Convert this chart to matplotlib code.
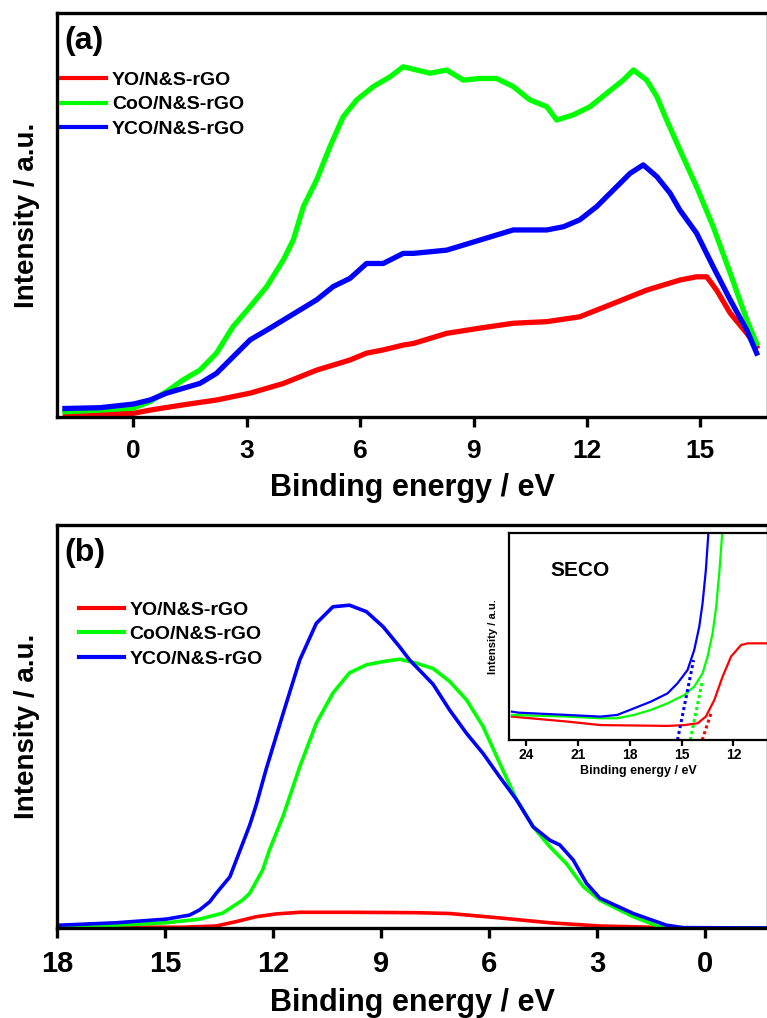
import matplotlib
matplotlib.use("Agg")
import matplotlib.pyplot as plt

labels = ["YO/N&S-rGO", "CoO/N&S-rGO", "YCO/N&S-rGO"]
colors = ["#ff0000", "#00ff00", "#0000ff"]

# (a) valence band, binding energy (eV) vs intensity (a.u.)
a_yo_x = [-1.8, -1.0, 0.0, 0.44, 1.32, 2.2, 3.09, 3.97, 4.85, 5.73, 6.17, 6.61, 7.14, 7.41,
          8.29, 9.17, 10.05, 10.94, 11.81, 12.7, 13.58, 14.46, 14.9, 15.17, 15.43, 15.79,
          16.23, 16.49]
a_yo_y = [0.9, 0.9, 0.9, 1.7, 3.0, 4.2, 5.9, 8.3, 11.6, 14.1, 15.8, 16.6, 17.8, 18.2,
          20.7, 22.0, 23.2, 23.6, 24.8, 28.1, 31.4, 33.9, 34.7, 34.7, 31.4, 25.7,
          20.7, 17.4]
a_coo_x = [-1.81, -0.88, 0.0, 0.44, 0.88, 1.32, 1.76, 2.2, 2.64, 3.09, 3.53, 3.97, 4.23,
           4.5, 4.85, 5.2, 5.55, 5.91, 6.35, 6.79, 7.14, 7.85, 8.29, 8.73, 9.17, 9.61,
           10.05, 10.49, 10.94, 11.2, 11.64, 12.08, 12.52, 12.96, 13.23, 13.58, 13.85,
           14.11, 14.46, 14.9, 15.34, 15.79, 16.23, 16.49]
a_coo_y = [1.3, 1.7, 2.2, 3.8, 6.3, 9.2, 11.6, 15.8, 22.4, 27.3, 32.3, 38.9, 43.8,
           52.1, 58.7, 66.9, 74.3, 78.5, 81.8, 84.2, 86.7, 85.1, 85.9, 83.4, 83.8, 83.8,
           81.8, 78.5, 76.8, 73.5, 74.8, 76.8, 80.1, 83.4, 85.9, 83.4, 79.3,
           73.5, 66.1, 57.0, 47.1, 35.6, 24.0, 18.2]
a_yco_x = [-1.81, -0.88, 0.0, 0.44, 0.88, 1.32, 1.76, 2.2, 2.64, 3.09, 3.53, 3.97, 4.41,
           4.85, 5.29, 5.73, 6.17, 6.61, 7.14, 7.41, 8.29, 9.17, 10.05, 10.94, 11.38,
           11.81, 12.26, 12.7, 13.14, 13.49, 13.85, 14.2, 14.46, 14.9, 15.34, 15.79,
           16.23, 16.49]
a_yco_y = [2.1, 2.3, 3.2, 4.2, 5.9, 7.1, 8.3, 10.8, 14.9, 19.1, 21.5, 24.0, 26.5,
           29.0, 32.3, 34.3, 38.0, 38.0, 40.5, 40.5, 41.3, 43.8, 46.3, 46.3, 47.1,
           48.8, 52.1, 56.2, 60.3, 62.4, 59.5, 55.4, 51.2, 45.5, 37.2, 29.0,
           21.5, 15.8]

# (b) UPS spectra
b_yo_x = [17.93, 14.5, 13.58, 13.02, 12.47, 11.91, 11.26, 9.88, 8.02, 7.1, 5.71, 4.32,
          2.93, 1.5, 0.5, -1.7]
b_yo_y = [0.2, 0.2, 0.5, 1.6, 2.8, 3.5, 3.9, 3.9, 3.8, 3.6, 2.5, 1.3,
          0.5, 0.2, 0.0, 0.0]
b_coo_x = [17.93, 16.36, 14.97, 14.04, 13.4, 12.85, 12.65, 12.29, 12.1, 11.73, 11.54,
           11.26, 10.8, 10.34, 9.88, 9.41, 8.95, 8.49, 8.02, 7.56, 7.1, 6.63, 6.17, 5.71,
           5.24, 4.78, 4.32, 3.86, 3.39, 2.93, 2.0, 1.27, 0.9, -1.7]
b_coo_y = [0.5, 0.7, 1.3, 2.2, 3.7, 6.9, 8.6, 14.4, 19.4, 27.6, 32.6,
           40.0, 50.8, 58.3, 63.3, 65.3, 66.1, 66.7, 65.7, 64.4, 61.2, 56.6, 50.0, 40.9,
           31.8, 25.1, 20.2, 16.0, 10.3, 6.9, 2.8, 0.3, 0.0, 0.0]
b_yco_x = [17.93, 16.36, 14.97, 14.32, 14.04, 13.76, 13.58, 13.2, 13.02, 12.65, 12.47,
           12.19, 11.73, 11.26, 10.8, 10.34, 9.88, 9.41, 8.95, 8.49, 8.21, 7.56, 7.1,
           6.63, 6.17, 5.71, 5.24, 4.78, 4.32, 4.04, 3.67, 3.3, 2.93, 2.0, 1.08, 0.62,
           -1.7]
b_yco_y = [0.7, 1.3, 2.2, 3.2, 4.5, 6.5, 8.6, 12.7, 16.9, 25.5, 30.5,
           39.5, 53.0, 66.5, 75.6, 79.7, 80.1, 78.5, 74.8, 69.8, 66.5, 60.5, 54.1,
           48.3, 43.3, 37.5, 31.8, 25.1, 21.8, 20.6, 16.9, 11.1, 7.4, 3.6, 0.7, 0.1,
           0.0]

# inset: secondary electron cut-off
s_yo_x = [24.83, 21.63, 19.7, 15.82, 14.85, 14.07, 13.6, 13.11, 12.63, 12.14, 11.56,
          11.17, 10.59, 10.0]
s_yo_y = [11.3, 8.9, 7.2, 6.8, 7.2, 8.1, 11.3, 19.3, 30.6, 40.3, 45.9,
          46.7, 46.7, 46.7]
s_coo_x = [24.83, 21.63, 19.7, 18.73, 17.76, 16.79, 15.82, 14.85, 14.27, 13.79, 13.5,
           13.21, 13.0, 12.81, 12.66]
s_coo_y = [12.1, 11.3, 10.5, 10.5, 12.1, 14.5, 17.7, 21.7, 25.8, 32.2, 40.3,
           51.5, 64.4, 82.0, 99.0]
s_yco_x = [24.83, 24.46, 21.63, 19.7, 18.73, 17.76, 16.79, 15.82, 15.24, 14.66, 14.27,
           13.98, 13.79, 13.6, 13.46]
s_yco_y = [13.7, 13.2, 12.1, 11.3, 12.1, 15.3, 18.5, 22.5, 27.4, 33.8, 43.5,
           54.8, 66.0, 82.0, 99.0]
# linear extrapolations of the cut-off edges
fit_yo = ([13.81, 13.3], [0.0, 12.9])
fit_coo = ([14.5, 13.79], [0.0, 29.0])
fit_yco = ([15.24, 14.31], [0.0, 38.6])

plt.rcParams["font.family"] = ["Liberation Sans", "DejaVu Sans"]
plt.rcParams["font.weight"] = "bold"

fig = plt.figure(figsize=(7.67, 10.18), dpi=100)
ax1 = fig.add_axes([0.0743, 0.5904, 0.927, 0.3968])
ax2 = fig.add_axes([0.0743, 0.0884, 0.927, 0.3959])
ins = fig.add_axes([0.6636, 0.2731, 0.3377, 0.2033])


def style_main(ax, ticksize):
    for sp in ax.spines.values():
        sp.set_linewidth(2.4)
    ax.set_yticks([])
    ax.tick_params(axis="x", direction="out", length=7, width=2.4, pad=9,
                   labelsize=ticksize)
    ax.set_xlabel("Binding energy / eV", fontsize=22, fontweight="bold", labelpad=7)
    ax.set_ylabel("Intensity / a.u.", fontsize=20, fontweight="bold", labelpad=12)


for x, y, c, lab in zip([a_yo_x, a_coo_x, a_yco_x], [a_yo_y, a_coo_y, a_yco_y], colors, labels):
    ax1.plot(x, y, color=c, lw=3.8, label=lab, solid_joinstyle="round")
ax1.set_xlim(-2.02, 16.79)
ax1.set_ylim(0, 100)
ax1.set_xticks([0, 3, 6, 9, 12, 15])
style_main(ax1, 19)
ax1.text(0.01, 0.93, "(a)", transform=ax1.transAxes, fontsize=23, fontweight="bold",
         va="center", ha="left")
leg1 = ax1.legend(loc="upper left", bbox_to_anchor=(-0.005, 0.875), frameon=False,
                  prop={"size": 14, "weight": "bold"}, handlelength=2.3,
                  handletextpad=0.3, labelspacing=0.35, borderaxespad=0)
for ln in leg1.get_lines():
    ln.set_linewidth(3)

for x, y, c, lab in zip([b_yo_x, b_coo_x, b_yco_x], [b_yo_y, b_coo_y, b_yco_y], colors, labels):
    ax2.plot(x, y, color=c, lw=2.6, label=lab, solid_joinstyle="round")
ax2.set_xlim(18, -1.74)
ax2.set_ylim(0, 100)
ax2.set_xticks([18, 15, 12, 9, 6, 3, 0])
style_main(ax2, 21)
ax2.text(0.01, 0.93, "(b)", transform=ax2.transAxes, fontsize=23, fontweight="bold",
         va="center", ha="left")
leg2 = ax2.legend(loc="upper left", bbox_to_anchor=(0.02, 0.83), frameon=False,
                  prop={"size": 14, "weight": "bold"}, handlelength=2.3,
                  handletextpad=0.3, labelspacing=0.35, borderaxespad=0)
for ln in leg2.get_lines():
    ln.set_linewidth(3)

for x, y, c in zip([s_yo_x, s_coo_x, s_yco_x], [s_yo_y, s_coo_y, s_yco_y], colors):
    ins.plot(x, y, color=c, lw=1.6)
for (fx, fy), c in zip([fit_yo, fit_coo, fit_yco], colors):
    ins.plot(fx, fy, color=c, lw=2.2, ls=(0, (1, 1)))
ins.set_xlim(25, 10)
ins.set_ylim(0, 100)
ins.set_xticks([24, 21, 18, 15, 12])
ins.set_yticks([])
for sp in ins.spines.values():
    sp.set_linewidth(1.6)
ins.tick_params(axis="x", direction="out", length=4, width=1.6, labelsize=10, pad=2)
ins.set_xlabel("Binding energy / eV", fontsize=9, fontweight="bold", labelpad=2)
ins.set_ylabel("Intensity / a.u.", fontsize=8, fontweight="bold", labelpad=8)
ins.text(0.16, 0.82, "SECO", transform=ins.transAxes, fontsize=15, fontweight="bold",
         va="center", ha="left")

fig.savefig("out.png", dpi=100)
